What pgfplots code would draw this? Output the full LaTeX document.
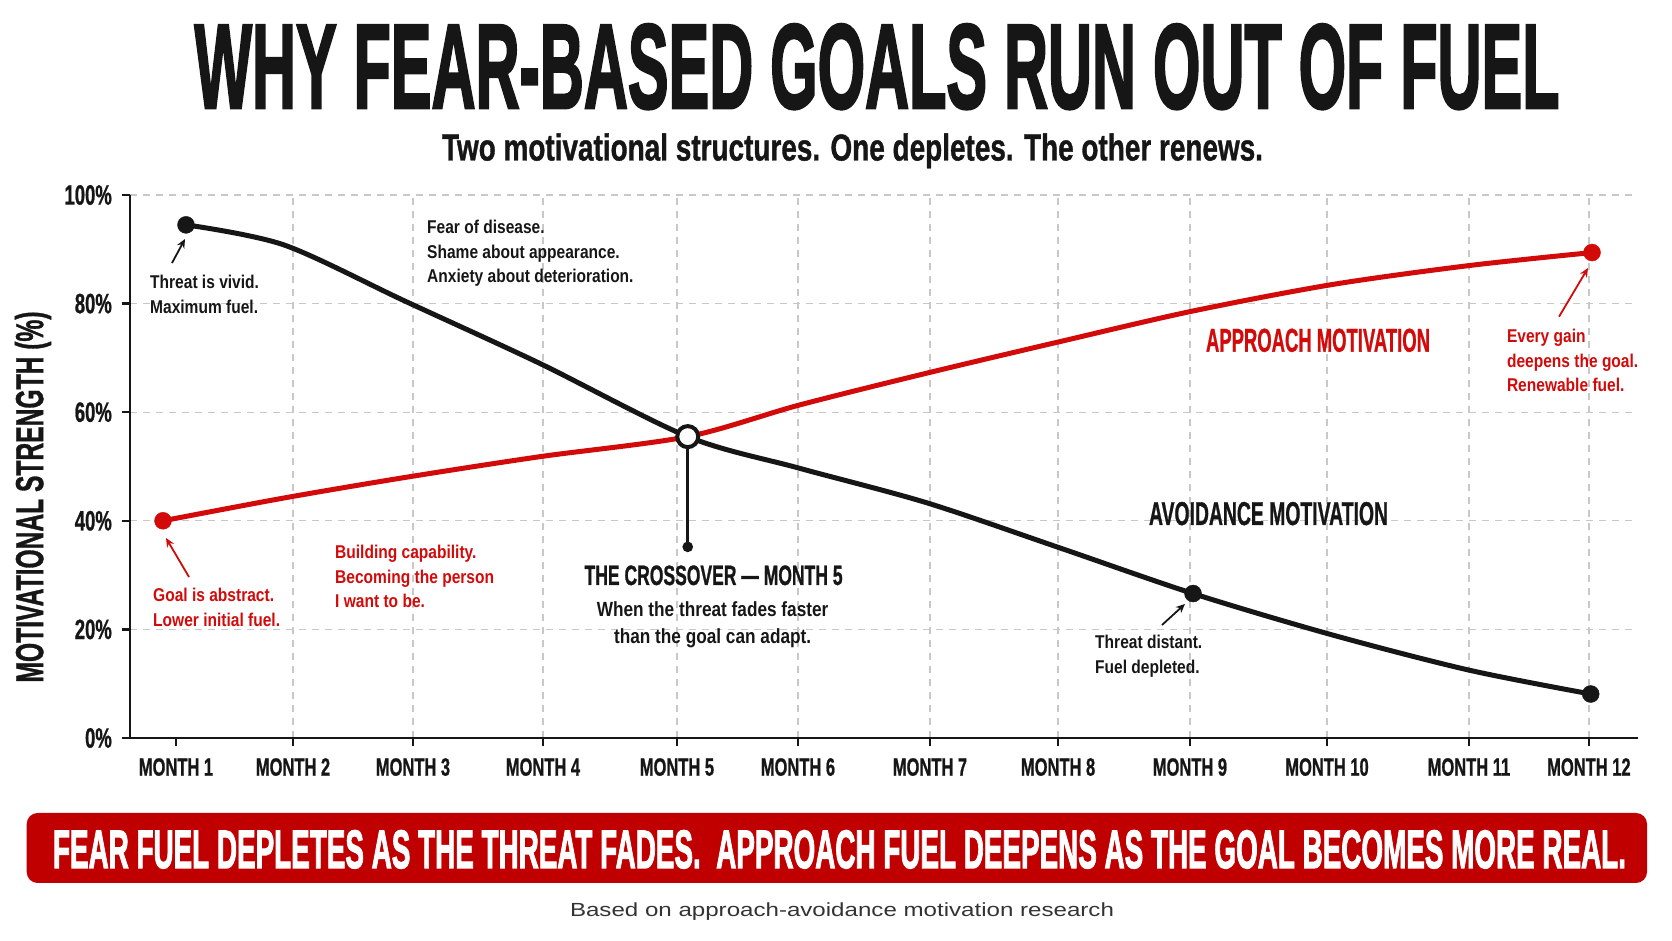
\documentclass[border=0pt]{standalone}
\usepackage{fontspec}
\usepackage{graphicx}
\usepackage{pgfplots}
\pgfplotsset{compat=1.18}
\usetikzlibrary{arrows.meta}
\setmainfont{Liberation Sans}
\newfontfamily\cond{Liberation Sans}[FakeStretch=0.66, BoldFeatures={FakeBold=0.8}]
\newfontfamily\anno{Liberation Sans}[FakeStretch=0.84]
\newfontfamily\heavy{Liberation Sans}[BoldFeatures={FakeBold=2.5}]
\newfontfamily\semiheavy{Liberation Sans}[BoldFeatures={FakeBold=1.2}]
\definecolor{lred}{HTML}{D20A0A}
\definecolor{bred}{HTML}{C00000}
\definecolor{ink}{HTML}{161616}
\definecolor{gridc}{HTML}{C8C8C8}
\definecolor{footgray}{HTML}{333333}
\newcommand\annofnt{\anno\bfseries\fontsize{18.5}{24.5}\selectfont}
\begin{document}
\begin{tikzpicture}
\path[use as bounding box] (0pt,0pt) rectangle (1672pt,941pt);
\begin{axis}[
  at={(130pt,203pt)}, anchor=south west,
  scale only axis, width=1508pt, height=543pt,
  xmin=0.642, xmax=12.382, ymin=0, ymax=100,
  clip=false,
  axis x line*=bottom, axis y line*=left,
  axis line style={line width=2.5pt, ink, -},
  xtick={1.911,2.845,3.857,4.900,5.842,6.870,7.867,8.894,9.961,11.066,12.000},
  xticklabels={MONTH 2,MONTH 3,MONTH 4,MONTH 5,MONTH 6,MONTH 7,MONTH 8,MONTH 9,MONTH 10,MONTH 11,MONTH 12},
  extra x ticks={1},
  extra x tick labels={MONTH 1},
  extra x tick style={grid=none},
  ytick={0,20,40,60,80,100},
  yticklabels={0\%,20\%,40\%,60\%,80\%,100\%},
  grid=major,
  major grid style={line width=1.2pt, gridc, dash pattern=on 7pt off 6pt},
  tick align=outside, major tick length=8pt,
  tick style={line width=2.5pt, ink},
  xticklabel style={font=\cond\bfseries\fontsize{25}{25}\selectfont, text=ink, inner sep=0pt, anchor=north, yshift=-12pt},
  yticklabel style={font=\cond\bfseries\fontsize{28}{28}\selectfont, text=ink, inner sep=0pt, anchor=east, xshift=-10pt},
]
% approach motivation (red)
\addplot[lred, line width=5pt, smooth] coordinates {
  (0.899,40.0) (1.841,44.2) (2.788,48.0) (3.831,51.8) (4.984,55.5)
  (5.850,61.3) (6.847,67.2) (7.882,73.0) (8.910,78.6) (9.999,83.5) (11.066,87.0) (12.024,89.4)};
% avoidance motivation (black)
\addplot[ink, line width=5pt, smooth] coordinates {
  (1.078,94.5) (1.841,90.8) (2.788,80.4) (3.831,69.0) (4.984,55.5)
  (5.850,49.7) (6.847,43.3) (7.882,35.0) (8.918,26.6) (9.999,19.0) (11.066,12.5) (12.014,8.1)};
% markers
\addplot[only marks, mark=*, mark size=8.5pt, mark options={draw=lred, fill=lred}] coordinates {(0.899,40.0) (12.024,89.4)};
\addplot[only marks, mark=*, mark size=8.5pt, mark options={draw=ink, fill=ink}] coordinates {(1.078,94.5) (8.918,26.6) (12.014,8.1)};
% crossover stem and circle
\addplot[ink, line width=2.5pt, mark=*, mark indices={2}, mark size=4pt, mark options={fill=ink}] coordinates {(4.984,55.5) (4.984,35.2)};
\addplot[only marks, mark=*, mark size=10.5pt, mark options={fill=white, draw=ink, line width=4pt}] coordinates {(4.984,55.5)};
\end{axis}
% y label
\node[rotate=90, anchor=center, inner sep=0pt, text=ink] at (33pt,444pt)
  {\resizebox{371pt}{\height}{\semiheavy\bfseries\fontsize{39}{39}\selectfont MOTIVATIONAL STRENGTH (\%)}};
% title and subtitle
\node[anchor=base, inner sep=0pt, text=ink] at (877pt,833pt)
  {\resizebox{1365pt}{\height}{\heavy\bfseries\fontsize{120}{120}\selectfont WHY FEAR-BASED GOALS RUN OUT OF FUEL}};
\node[anchor=base, inner sep=0pt, text=ink] at (852.5pt,780.5pt)
  {\resizebox{821pt}{\height}{\semiheavy\bfseries\fontsize{37.5}{37.5}\selectfont Two motivational structures. One depletes. The other renews.}};
% annotations
\node[anchor=north west, inner sep=0pt, align=left, text=ink, font=\annofnt] at (150pt,666pt) {Threat is vivid.\\Maximum fuel.};
\draw[ink, line width=1.8pt, -{Stealth[length=9pt, width=8pt]}] (172pt,678pt) -- (185pt,702pt);
\node[anchor=north west, inner sep=0pt, align=left, text=ink, font=\annofnt] at (427pt,721pt) {Fear of disease.\\Shame about appearance.\\Anxiety about deterioration.};
\node[anchor=north west, inner sep=0pt, align=left, text=lred, font=\annofnt] at (335pt,396pt) {Building capability.\\Becoming the person\\I want to be.};
\node[anchor=north west, inner sep=0pt, align=left, text=lred, font=\annofnt] at (153pt,352.7pt) {Goal is abstract.\\Lower initial fuel.};
\draw[lred, line width=1.8pt, -{Stealth[length=9pt, width=8pt]}] (189pt,364pt) -- (166pt,403pt);
\node[anchor=base, inner sep=0pt, text=ink] at (713.6pt,356pt)
  {\resizebox{258pt}{\height}{\semiheavy\bfseries\fontsize{28}{28}\selectfont THE CROSSOVER — MONTH 5}};
\node[anchor=north, inner sep=0pt, align=center, text=ink, font=\anno\bfseries\fontsize{20.5}{26.7}\selectfont] at (712.6pt,339.3pt)
  {When the threat fades faster\\than the goal can adapt.};
\node[anchor=base, inner sep=0pt, text=lred] at (1318pt,589.3pt)
  {\resizebox{224pt}{\height}{\semiheavy\bfseries\fontsize{33}{33}\selectfont APPROACH MOTIVATION}};
\node[anchor=north west, inner sep=0pt, align=left, text=lred, font=\annofnt] at (1506.8pt,611.7pt) {Every gain\\deepens the goal.\\Renewable fuel.};
\draw[lred, line width=1.8pt, -{Stealth[length=9pt, width=8pt]}] (1559pt,624.3pt) -- (1588pt,673pt);
\node[anchor=base, inner sep=0pt, text=ink] at (1268.5pt,416pt)
  {\resizebox{239pt}{\height}{\semiheavy\bfseries\fontsize{33}{33}\selectfont AVOIDANCE MOTIVATION}};
\node[anchor=north west, inner sep=0pt, align=left, text=ink, font=\annofnt] at (1095pt,306pt) {Threat distant.\\Fuel depleted.};
\draw[ink, line width=1.8pt, -{Stealth[length=9pt, width=8pt]}] (1162pt,316pt) -- (1185pt,337pt);
% banner
\fill[bred, rounded corners=11pt] (26.7pt,58pt) rectangle (1647pt,128pt);
\node[anchor=base, inner sep=0pt, text=white] at (839.5pt,73pt)
  {\resizebox{1573pt}{\height}{\heavy\bfseries\fontsize{54}{54}\selectfont FEAR FUEL DEPLETES AS THE THREAT FADES.\ \ APPROACH FUEL DEEPENS AS THE GOAL BECOMES MORE REAL.}};
% footer
\node[anchor=base, inner sep=0pt, text=footgray] at (842pt,24pt)
  {\resizebox{544pt}{\height}{\fontsize{19}{19}\selectfont Based on approach-avoidance motivation research}};
\end{tikzpicture}
\end{document}
